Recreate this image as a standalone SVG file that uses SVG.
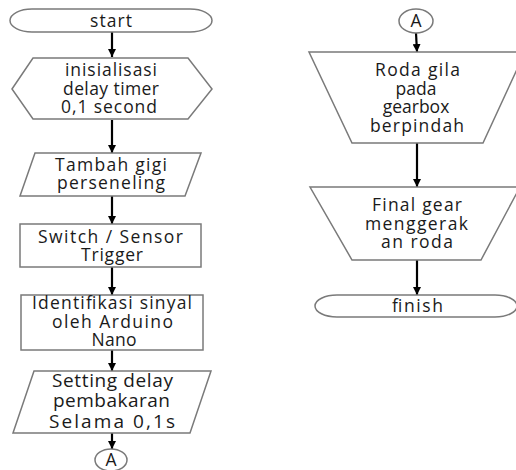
<svg xmlns="http://www.w3.org/2000/svg" width="516" height="470" viewBox="0 0 516 470">
<defs>
<marker id="ah" markerUnits="userSpaceOnUse" markerWidth="9" markerHeight="8" refX="8" refY="4" orient="auto">
<path d="M0,0 L8,4 L0,8 Z" fill="#000"/>
</marker>
<style>
.s{fill:#fff;stroke:#7a7a7a;stroke-width:1.5}
.t{font-family:"Open Sans","Liberation Sans",sans-serif;font-size:17.5px;fill:#1a1a1a;text-anchor:middle}
.b{font-size:19px}
.c{stroke:#000;stroke-width:2.2;fill:none;marker-end:url(#ah)}
</style>
</defs>
<rect width="516" height="470" fill="#fff"/>
<g id="connectors">
<line class="c" x1="112" y1="32" x2="112" y2="57"/>
<line class="c" x1="112" y1="120" x2="112" y2="153"/>
<line class="c" x1="112" y1="196" x2="112" y2="224"/>
<line class="c" x1="112" y1="267" x2="112" y2="295"/>
<line class="c" x1="112" y1="350" x2="112" y2="371"/>
<line class="c" x1="112" y1="433" x2="112" y2="449"/>
<line class="c" x1="416" y1="33" x2="417" y2="52"/>
<line class="c" x1="417" y1="143" x2="417" y2="187"/>
<line class="c" x1="417" y1="260" x2="417" y2="295"/>
</g>
<g id="start">
<rect class="s" x="10" y="9" width="202" height="23" rx="22" ry="11.5"/>
<text class="t" x="111" y="26.5" textLength="42">start</text>
</g>
<g id="init">
<polygon class="s" points="12,89 33,58 188,58 212,89 188,119 33,119"/>
<text class="t" x="111" y="76" textLength="92">inisialisasi</text>
<text class="t" x="111" y="94.5" textLength="96">delay timer</text>
<text class="t" x="109" y="113" textLength="96">0,1 second</text>
</g>
<g id="tambah">
<polygon class="s" points="35,153 201,153 185,196 20,196"/>
<text class="t" x="111" y="171" textLength="112">Tambah gigi</text>
<text class="t" x="111" y="189" textLength="108">perseneling</text>
</g>
<g id="switch">
<rect class="s" x="20" y="224" width="181" height="43"/>
<text class="t" x="110.5" y="243" textLength="145">Switch / Sensor</text>
<text class="t" x="112" y="260.5" textLength="62">Trigger</text>
</g>
<g id="identifikasi">
<rect class="s" x="21" y="295" width="182" height="55"/>
<text class="t" x="112" y="309" textLength="160">Identifikasi sinyal</text>
<text class="t" x="112.5" y="328" textLength="121">oleh Arduino</text>
<text class="t" x="114" y="346" textLength="45">Nano</text>
</g>
<g id="setting">
<polygon class="s" points="34,371 211,371 190,433 13,433"/>
<text class="t b" x="112.5" y="387" textLength="121">Setting delay</text>
<text class="t b" x="111.5" y="407" textLength="117">pembakaran</text>
<text class="t b" x="112" y="428" textLength="126">Selama 0,1s</text>
</g>
<g id="connA1">
<ellipse class="s" cx="111" cy="460" rx="16" ry="11"/>
<text class="t" x="111" y="466">A</text>
</g>
<g id="connA2">
<ellipse class="s" cx="416" cy="21" rx="17" ry="12"/>
<text class="t" x="416" y="27">A</text>
</g>
<g id="roda">
<polygon class="s" points="309,52 525,52 483,143 352,143"/>
<text class="t" x="417.5" y="76" textLength="85">Roda gila</text>
<text class="t" x="416" y="94.5">pada</text>
<text class="t" x="416" y="113">gearbox</text>
<text class="t" x="417" y="132" textLength="94">berpindah</text>
</g>
<g id="final">
<polygon class="s" points="310,187 520,187 481,260 352,260"/>
<text class="t" x="417" y="211" textLength="90">Final gear</text>
<text class="t" x="416.5" y="230" textLength="103">menggerak</text>
<text class="t" x="417" y="248" textLength="72">an roda</text>
</g>
<g id="finish">
<rect class="s" x="315" y="295" width="202" height="22" rx="22" ry="11"/>
<text class="t" x="417.5" y="312" textLength="51">finish</text>
</g>
</svg>
